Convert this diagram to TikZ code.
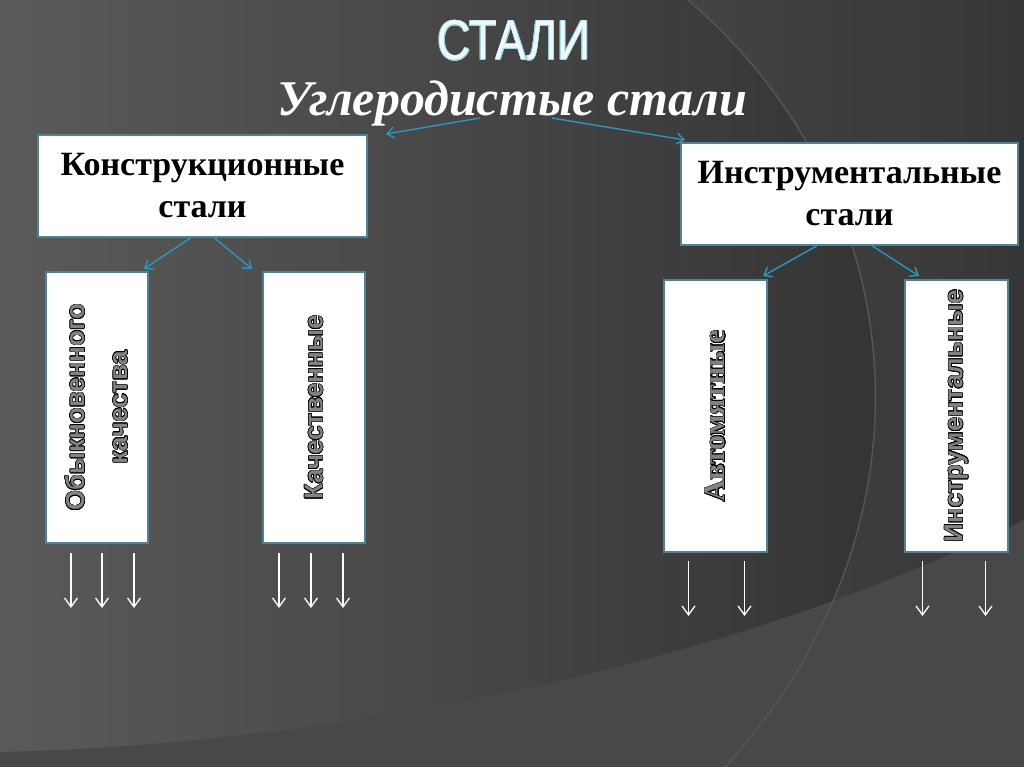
\documentclass[tikz,border=0pt]{standalone}
\usepackage{fontspec}
\setmainfont{Liberation Serif}
\setsansfont{Liberation Sans}
\usepackage[copies]{contour}
\definecolor{goluboy}{RGB}{46,150,190}
\definecolor{ramka}{RGB}{80,130,145}
\definecolor{fonl}{RGB}{90,90,90}
\definecolor{fonm}{RGB}{50,50,50}
\definecolor{fonr}{RGB}{46,46,46}
\definecolor{polosa}{RGB}{72,72,72}
\definecolor{duga}{RGB}{84,84,84}
\definecolor{seryj}{RGB}{130,130,130}
\definecolor{svet}{RGB}{236,250,252}
\usetikzlibrary{arrows.meta,positioning,calc}
\contourlength{0.6pt}
\newcommand{\obv}[1]{\contour{black}{\textcolor{seryj}{#1}}}

\begin{document}
\begin{tikzpicture}[x=1pt,y=-1pt,
    blok/.style={draw=ramka,line width=2pt,fill=white,inner sep=0pt},
    strel/.style={-{Straight Barb[length=7pt,width=11pt]},goluboy,line width=1.4pt},
    bel/.style={-{Straight Barb[length=9pt,width=13pt]},white,line width=1.3pt}]
  \useasboundingbox (0,0) rectangle (1024,767);
  % fon
  \shade[left color=fonl,middle color=fonm,right color=fonr] (0,0) rectangle (1024,767);
  \fill[white,opacity=0.04] (688,0) .. controls (910,190) and (950,520) .. (725,767)
    -- (1024,767) -- (1024,0) -- cycle;
  \fill[polosa] (0,767) -- (0,752) .. controls (300,745) and (700,680) .. (1024,520)
    -- (1024,767) -- cycle;
  \draw[duga,line width=1.5pt] (688,0) .. controls (910,190) and (950,520) .. (725,767);

  % zagolovki
  \node[font=\sffamily\fontsize{56}{60}\selectfont,anchor=base] (t) at (514,60)
    {\scalebox{0.82}[1]{{\contourlength{0.7pt}\contour{goluboy!45!white}{\textcolor{svet}{СТАЛИ}}}}};
  \node[font=\bfseries\itshape\fontsize{50}{54}\selectfont,text=white,anchor=base] (u)
    at (512,116) {Углеродистые стали};

  \node[blok,minimum width=329pt,minimum height=102pt,align=center,
        font=\bfseries\fontsize{34}{42}\selectfont] (k) at (202.5,186) {Конструкционные\\стали};
  \node[blok,minimum width=337pt,minimum height=102pt,align=center,
        font=\bfseries\fontsize{34}{42}\selectfont] (i) at (849.5,194) {Инструментальные\\стали};

  \node[blok,minimum width=102pt,minimum height=271pt,font=\sffamily\bfseries\fontsize{26}{43}\selectfont]
    (k1) at (97,407.5) {\rotatebox{90}{\begin{tabular}{@{}c@{}}\obv{Обыкновенного}\\\obv{качества}\end{tabular}}};
  \node[blok,minimum width=102pt,minimum height=271pt,font=\sffamily\bfseries\fontsize{26}{30}\selectfont]
    (k2) at (314,407.5) {\rotatebox{90}{\obv{Качественные}}};
  \node[blok,minimum width=103pt,minimum height=272pt,font=\bfseries\fontsize{30}{34}\selectfont]
    (i1) at (715.5,416) {\rotatebox{90}{\obv{Автомятные}}};
  \node[blok,minimum width=103pt,minimum height=272pt,font=\sffamily\bfseries\fontsize{26}{30}\selectfont]
    (i2) at (956.5,416) {\rotatebox{90}{\obv{Инструментальные}}};

  % strelki
  \draw[strel] ([xshift=-32pt,yshift=-2pt]u.base) -- ([xshift=18pt]k.north east);
  \draw[strel] ([xshift=40pt,yshift=-2pt]u.base) -- ([xshift=5pt,yshift=2pt]i.north west);
  \draw[strel] ([xshift=-12pt]k.south) -- ([xshift=-5pt,yshift=2pt]k1.north east);
  \draw[strel] ([xshift=12pt]k.south) -- ([xshift=-10pt,yshift=2pt]k2.north west);
  \draw[strel] ([xshift=-33pt]i.south) -- ([xshift=-5pt,yshift=3pt]i1.north east);
  \draw[strel] ([xshift=23pt]i.south) -- ([xshift=15pt,yshift=3pt]i2.north west);

  \foreach \dx in {-26,5,37} \draw[bel] ([xshift=\dx pt,yshift=-9pt]k1.south) -- ++(0,55);
  \foreach \dx in {-35,-3,29} \draw[bel] ([xshift=\dx pt,yshift=-9pt]k2.south) -- ++(0,55);
  \foreach \dx in {-27,29} \draw[bel] ([xshift=\dx pt,yshift=-8pt]i1.south) -- ++(0,55);
  \foreach \dx in {-34,29} \draw[bel] ([xshift=\dx pt,yshift=-8pt]i2.south) -- ++(0,55);
\end{tikzpicture}
\end{document}
